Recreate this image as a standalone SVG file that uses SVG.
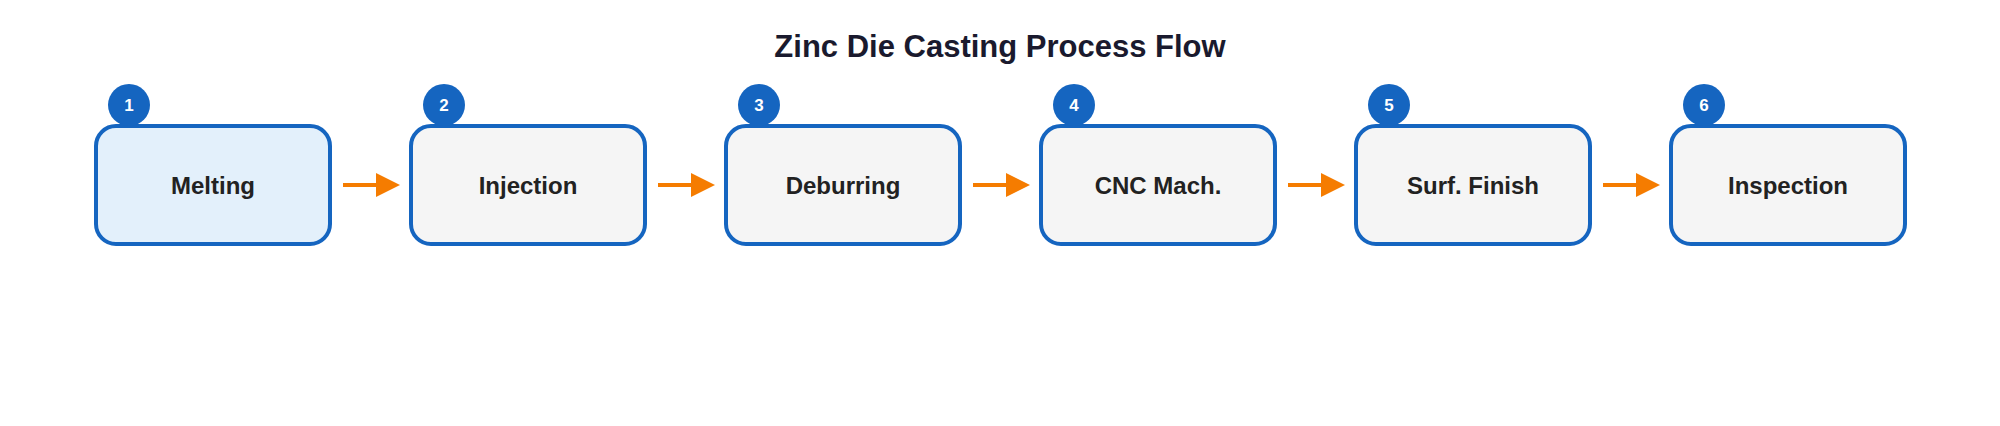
<svg xmlns="http://www.w3.org/2000/svg" width="2000" height="426" viewBox="0 0 2000 426">
<style>
.box{fill:#f5f5f5;stroke:#1565c0;stroke-width:4}
.first{fill:#e3f0fb}
.lbl{font-family:"Liberation Sans",Arial,sans-serif;font-weight:bold;font-size:24px;fill:#222;text-anchor:middle;dominant-baseline:central}
.badge{fill:#1565c0}
.num{font-family:"Liberation Sans",Arial,sans-serif;font-weight:bold;font-size:17px;fill:#fff;text-anchor:middle;dominant-baseline:central}
.arr{stroke:#f57c00;stroke-width:4;fill:none;marker-end:url(#ah)}
</style>
<defs><marker id="ah" markerWidth="6" markerHeight="6" refX="5" refY="3" orient="auto" markerUnits="strokeWidth"><path d="M0,0 L6,3 L0,6 Z" fill="#f57c00"/></marker></defs>
<rect width="2000" height="426" fill="#fff"/>
<text x="1000" y="46" font-family="'Liberation Sans',Arial,sans-serif" font-weight="bold" font-size="31" fill="#1a1a2e" text-anchor="middle" dominant-baseline="central">Zinc Die Casting Process Flow</text>
<g id="connectors">
<line class="arr" x1="343" y1="185" x2="396" y2="185"/>
<line class="arr" x1="658" y1="185" x2="711" y2="185"/>
<line class="arr" x1="973" y1="185" x2="1026" y2="185"/>
<line class="arr" x1="1288" y1="185" x2="1341" y2="185"/>
<line class="arr" x1="1603" y1="185" x2="1656" y2="185"/>
</g>
<g id="n1"><rect class="box first" x="96" y="126" width="234" height="118" rx="20"/><text class="lbl" x="213" y="185">Melting</text><circle class="badge" cx="129" cy="105" r="21"/><text class="num" x="129" y="105">1</text></g>
<g id="n2"><rect class="box" x="411" y="126" width="234" height="118" rx="20"/><text class="lbl" x="528" y="185">Injection</text><circle class="badge" cx="444" cy="105" r="21"/><text class="num" x="444" y="105">2</text></g>
<g id="n3"><rect class="box" x="726" y="126" width="234" height="118" rx="20"/><text class="lbl" x="843" y="185">Deburring</text><circle class="badge" cx="759" cy="105" r="21"/><text class="num" x="759" y="105">3</text></g>
<g id="n4"><rect class="box" x="1041" y="126" width="234" height="118" rx="20"/><text class="lbl" x="1158" y="185">CNC Mach.</text><circle class="badge" cx="1074" cy="105" r="21"/><text class="num" x="1074" y="105">4</text></g>
<g id="n5"><rect class="box" x="1356" y="126" width="234" height="118" rx="20"/><text class="lbl" x="1473" y="185">Surf. Finish</text><circle class="badge" cx="1389" cy="105" r="21"/><text class="num" x="1389" y="105">5</text></g>
<g id="n6"><rect class="box" x="1671" y="126" width="234" height="118" rx="20"/><text class="lbl" x="1788" y="185">Inspection</text><circle class="badge" cx="1704" cy="105" r="21"/><text class="num" x="1704" y="105">6</text></g>
</svg>
